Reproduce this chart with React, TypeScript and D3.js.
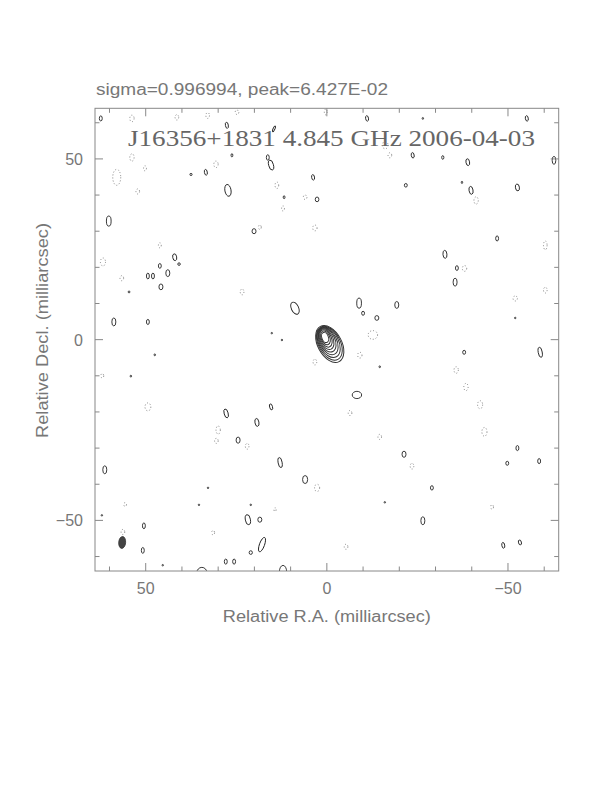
import * as d3 from "d3";

// Map extent (milliarcsec) and tick values
const extent = [64, -64];
const tickValues = d3.range(-60, 61, 10);
const labelValues = [50, 0, -50];

const sigmaText = "sigma=0.996994, peak=6.427E-02";
const titleText = "J16356+1831 4.845 GHz 2006-04-03";

// Core contours, outermost first: [ra, dec, width(minor), height(major), pa]
const coreRings = [
  [-0.8, -1.2, 6.6, 11.0, 28],
  [-0.7, -1.0, 6.0, 10.1, 28],
  [-0.5, -0.7, 5.4, 9.1, 28],
  [-0.3, -0.4, 4.8, 8.1, 27],
  [-0.1, -0.1, 4.2, 7.1, 26],
  [0.1, 0.15, 3.6, 6.1, 25],
  [0.25, 0.35, 3.0, 5.1, 24],
  [0.38, 0.5, 2.4, 4.0, 22],
  [0.48, 0.6, 1.8, 2.9, 20],
];

// Positive noise contours: [ra, dec, width, height, pa]
const posBlobs = [
  [62.4, 61.2, 0.8, 1.4, 0], [27.6, 59.3, 0.8, 1.7, 10], [14.6, 58.3, 0.5, 1.7, -25],
  [-11.1, 61.2, 0.8, 1.5, 10], [-26.5, 61.2, 0.4, 0.5, 0], [-55.2, 61.2, 0.8, 1.5, 10],
  [26.2, 51.0, 0.5, 0.9, 0], [16.3, 50.4, 0.8, 1.5, 0], [-23.7, 51.0, 0.8, 1.5, 10],
  [-32.0, 50.4, 0.6, 1.0, 0], [-38.9, 49.1, 1.0, 1.9, 10], [-62.7, 49.6, 1.0, 2.2, 0],
  [15.4, 48.3, 1.3, 2.8, 15], [33.4, 46.3, 0.8, 1.6, 10], [37.5, 45.7, 0.6, 0.6, 0],
  [27.3, 41.3, 1.7, 3.3, 10], [3.8, 44.9, 0.8, 1.5, 10], [11.8, 39.4, 0.5, 0.8, 0],
  [2.7, 38.8, 1.0, 1.3, 0], [60.2, 32.8, 1.3, 2.8, 0], [20.1, 30.0, 1.1, 1.4, 0],
  [42.0, 22.8, 1.1, 1.9, 10], [40.8, 20.9, 0.7, 0.7, 0], [46.1, 20.4, 0.8, 1.3, 0],
  [49.4, 17.6, 0.8, 1.6, 0], [48.0, 17.6, 0.8, 1.6, 0], [43.9, 18.4, 1.1, 1.9, 0],
  [45.8, 14.6, 1.1, 1.6, 0], [54.6, 13.2, 0.5, 0.5, 0], [-21.8, 42.7, 0.8, 1.0, 0],
  [-37.3, 43.5, 0.4, 0.6, 0], [-39.8, 41.3, 1.1, 2.2, 10], [-52.6, 42.1, 1.1, 1.9, 10],
  [-47.0, 28.0, 0.8, 1.4, 0], [-32.6, 23.6, 1.1, 2.2, 5], [-35.9, 19.8, 0.8, 1.3, 0],
  [-35.4, 15.9, 1.1, 2.2, 0], [-8.9, 10.1, 1.3, 2.8, 0], [-10.0, 7.3, 0.8, 1.1, 0],
  [-13.8, 6.0, 1.1, 1.3, 0], [-19.3, 9.6, 1.1, 1.9, 0], [8.8, 8.7, 2.0, 3.6, 25],
  [-8.3, -15.3, 2.6, 2.0, 0], [58.8, 4.9, 1.1, 2.2, 0], [49.4, 4.9, 0.8, 1.4, 0],
  [47.5, -4.2, 0.4, 0.5, 0], [54.1, -10.1, 0.4, 0.5, 0], [-37.9, -3.5, 0.8, 1.1, 0],
  [-58.9, -3.5, 1.1, 2.8, 10], [27.8, -20.4, 1.1, 2.5, 15], [19.3, -22.9, 1.1, 2.2, 10],
  [24.5, -27.8, 1.1, 1.7, 0], [15.4, -18.6, 0.8, 1.7, 15], [12.9, -34.0, 1.1, 2.8, 10],
  [6.0, -38.7, 1.4, 2.2, 0], [-14.6, -7.5, 0.4, 0.5, 0], [-21.3, -31.7, 1.1, 1.7, 0],
  [-52.6, -30.0, 0.8, 1.4, 0], [-49.8, -34.2, 0.8, 1.1, 0], [-58.6, -33.6, 0.8, 1.4, 0],
  [61.3, -36.0, 1.1, 2.2, 0], [50.5, -51.5, 0.8, 1.6, 0], [50.8, -58.3, 0.8, 1.6, 0],
  [21.8, -49.8, 1.4, 2.8, 10], [18.5, -49.8, 1.1, 1.4, 0], [27.9, -61.4, 0.8, 1.4, 0],
  [25.6, -61.4, 0.8, 1.4, 0], [21.0, -58.9, 0.9, 1.0, 0], [17.9, -56.7, 1.4, 4.2, -20],
  [34.5, -64.5, 2.8, 3.0, 0], [12.1, -64.2, 2.0, 3.5, 0], [-26.5, -50.1, 1.1, 2.2, 0],
  [-48.7, -56.9, 0.8, 1.6, 10], [-53.3, -56.1, 0.8, 1.4, 15], [-29.0, -41.0, 0.8, 1.2, 0],
  [15.2, 1.8, 0.4, 0.4, 0], [12.4, -0.1, 0.4, 0.4, 0], [35.3, -45.7, 0.4, 0.4, 0],
  [21.0, -45.7, 0.4, 0.4, 0], [62.1, -48.6, 0.4, 0.4, 0], [45.3, -62.4, 0.4, 0.4, 0],
  [32.8, -41.0, 0.4, 0.4, 0], [-16.0, -45.0, 0.4, 0.4, 0], [-52.0, 6.0, 0.4, 0.4, 0],
];

// Negative noise contours (dotted): [ra, dec, width, height]
const negBlobs = [
  [53.8, 61.2, 1.2, 1.8], [41.4, 61.5, 1.0, 1.5], [32.9, 62.0, 1.0, 1.6], [24.8, 62.9, 1.0, 1.2],
  [0.3, 63.0, 0.8, 1.6], [53.8, 50.4, 1.2, 2.0], [58.0, 44.9, 2.2, 4.4], [50.2, 47.4, 0.8, 1.4],
  [30.6, 48.5, 1.2, 1.8], [-16.1, 53.8, 1.6, 2.0], [-17.4, 51.0, 1.0, 1.4], [13.8, 42.7, 1.0, 1.8],
  [6.0, 39.4, 1.0, 1.2], [12.1, 36.3, 0.8, 1.4], [18.5, 31.1, 0.8, 1.2], [3.3, 30.9, 1.2, 1.6],
  [61.8, 21.5, 1.4, 2.2], [46.1, 26.1, 0.8, 1.4], [23.4, 13.2, 1.0, 1.6], [56.6, 17.0, 1.0, 1.4],
  [52.2, 41.0, 1.0, 1.4], [-12.7, 1.3, 2.6, 2.4], [-9.1, -4.3, 1.2, 1.6], [3.3, -6.2, 1.0, 1.6],
  [-41.2, 38.5, 1.2, 2.0], [-60.3, 26.1, 1.0, 2.4], [-38.0, 19.7, 1.2, 1.6], [-52.0, 11.4, 1.2, 1.4],
  [-60.3, 13.7, 1.0, 1.6], [-35.7, -8.4, 1.2, 1.8], [-38.4, -13.1, 1.2, 2.0], [-42.3, -18.0, 1.4, 2.2],
  [-43.5, -25.5, 1.4, 2.4], [49.4, -18.6, 1.6, 2.2], [30.0, -25.0, 1.2, 2.2], [30.5, -28.0, 1.0, 1.4],
  [22.0, -29.5, 1.0, 1.6], [2.7, -41.0, 1.4, 2.0], [-6.4, -20.3, 1.0, 1.4], [-14.6, -26.9, 1.0, 1.4],
  [-23.5, -35.0, 1.0, 1.6], [56.3, -53.2, 1.0, 1.4], [55.7, -45.6, 0.8, 1.0], [31.4, -53.4, 0.8, 1.2],
  [14.3, -47.0, 0.6, 1.0], [-45.6, -46.3, 0.8, 1.2], [-5.3, -57.3, 1.0, 1.4], [62.0, -10.0, 0.8, 1.2],
];

// Restoring beam: [ra, dec, width(minor), height(major), pa]
const beam = [56.5, -56.1, 1.9, 3.3, -5];

const W = 612;
const H = 792;
const box = { left: 95, right: 558.7, top: 108.3, bottom: 571 };

export default function App() {
  const x = d3.scaleLinear().domain(extent).range([box.left, box.right]);
  const y = d3.scaleLinear().domain(extent).range([box.top, box.bottom]);
  const k = Math.abs(x(1) - x(0));

  const ell = (d, i, props) => (
    <ellipse
      key={i}
      cx={0}
      cy={0}
      rx={(d[2] / 2) * k}
      ry={(d[3] / 2) * k}
      transform={`translate(${x(d[0])},${y(d[1])}) rotate(${-(d[4] || 0)})`}
      {...props}
    />
  );

  const axisColor = "#888";
  const textColor = "#777";
  const sans = "'Liberation Sans', 'DejaVu Sans', sans-serif";

  return (
    <svg
      width={W}
      height={H}
      style={{ position: "absolute", left: 0, top: 0, background: "#fff" }}
    >
      <defs>
        <clipPath id="plot">
          <rect x={box.left} y={box.top} width={box.right - box.left} height={box.bottom - box.top} />
        </clipPath>
      </defs>

      <text x={96} y={95} fontFamily={sans} fontSize={16} fill={textColor} textLength={292} lengthAdjust="spacingAndGlyphs">
        {sigmaText}
      </text>

      <g clipPath="url(#plot)">
        {negBlobs.map((d, i) =>
          ell(d, "n" + i, { fill: "none", stroke: "#777", strokeWidth: 0.9, strokeDasharray: "1,2" })
        )}
        {posBlobs.map((d, i) => ell(d, "p" + i, { fill: "none", stroke: "#222", strokeWidth: 0.9 }))}
        {coreRings.map((d, i) => ell(d, "c" + i, { fill: "none", stroke: "#333", strokeWidth: 1 }))}
        {ell(beam, "beam", { fill: "#444", stroke: "#333", strokeWidth: 0.8 })}
      </g>

      <text
        x={128}
        y={146}
        fontFamily="'Liberation Serif', 'DejaVu Serif', serif"
        fontSize={24}
        fill="#666"
        textLength={407}
        lengthAdjust="spacingAndGlyphs"
      >
        {titleText}
      </text>

      {/* frame */}
      <rect
        x={box.left}
        y={box.top}
        width={box.right - box.left}
        height={box.bottom - box.top}
        fill="none"
        stroke={axisColor}
        strokeWidth={1}
      />

      {/* ticks on all four sides, pointing inward */}
      {tickValues.map((v) => {
        const len = v % 50 === 0 ? 8 : 4.5;
        return (
          <g key={"t" + v} stroke={axisColor} strokeWidth={1}>
            <line x1={x(v)} x2={x(v)} y1={box.bottom} y2={box.bottom - len} />
            <line x1={x(v)} x2={x(v)} y1={box.top} y2={box.top + len} />
            <line x1={box.left} x2={box.left + len} y1={y(v)} y2={y(v)} />
            <line x1={box.right} x2={box.right - len} y1={y(v)} y2={y(v)} />
          </g>
        );
      })}

      {labelValues.map((v) => (
        <text
          key={"xl" + v}
          x={x(v)}
          y={594}
          textAnchor="middle"
          fontFamily={sans}
          fontSize={16}
          fill={textColor}
        >
          {v < 0 ? "\u2212" + Math.abs(v) : v}
        </text>
      ))}
      {labelValues.map((v) => (
        <text
          key={"yl" + v}
          x={83}
          y={y(v) + 6}
          textAnchor="end"
          fontFamily={sans}
          fontSize={16}
          fill={textColor}
        >
          {v < 0 ? "\u2212" + Math.abs(v) : v}
        </text>
      ))}

      <text
        x={(box.left + box.right) / 2}
        y={622}
        textAnchor="middle"
        fontFamily={sans}
        fontSize={16}
        fill={textColor}
        textLength={208}
        lengthAdjust="spacingAndGlyphs"
      >
        Relative R.A. (milliarcsec)
      </text>
      <text
        transform={`translate(48,330.5) rotate(-90)`}
        textAnchor="middle"
        fontFamily={sans}
        fontSize={16}
        fill={textColor}
        textLength={215}
        lengthAdjust="spacingAndGlyphs"
      >
        Relative Decl. (milliarcsec)
      </text>
    </svg>
  );
}
